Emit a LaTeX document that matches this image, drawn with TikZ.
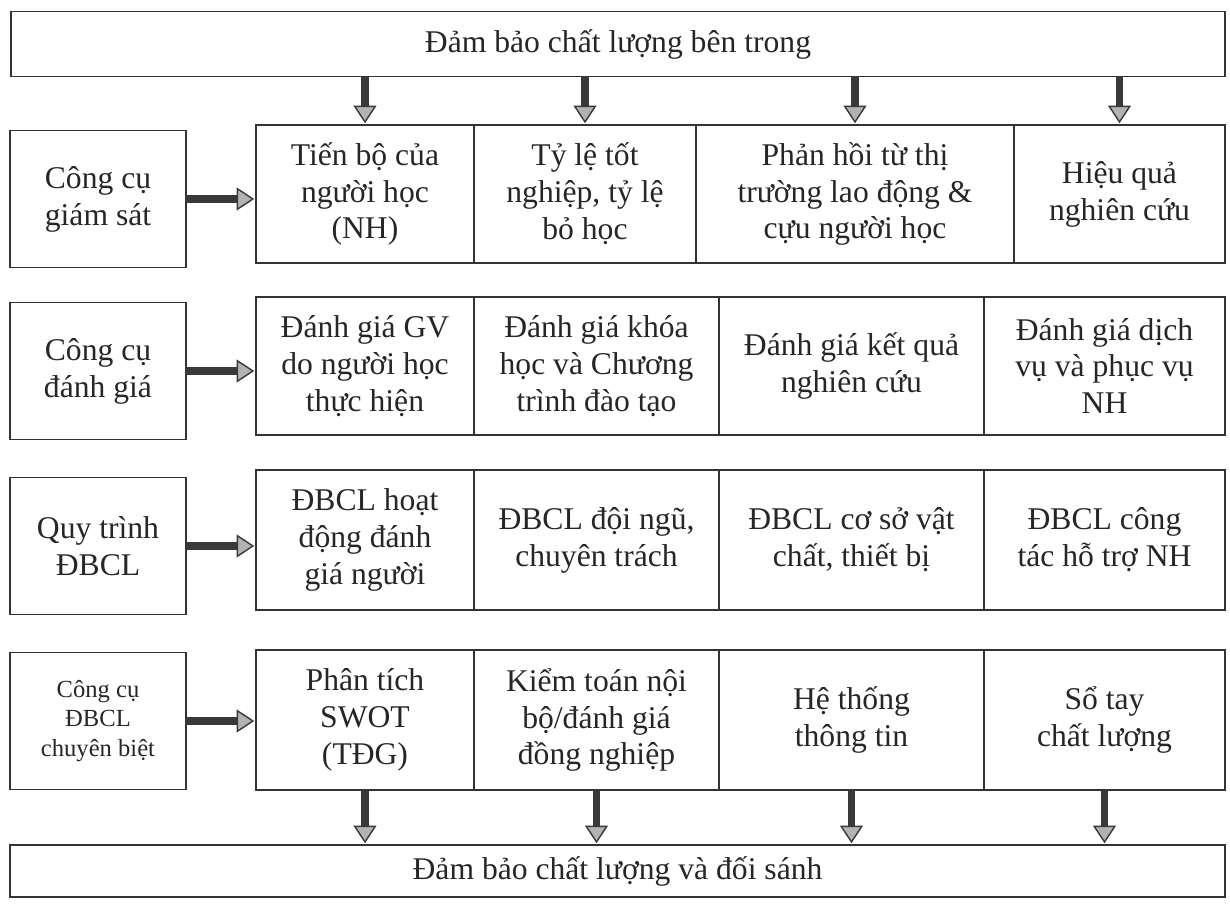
\documentclass[tikz,border=0pt]{standalone}
\usepackage{fontspec}
\setmainfont{Liberation Serif}
\usetikzlibrary{arrows.meta}
\tikzset{
  box/.style={draw=black!80, line width=0.9pt, inner sep=0pt, outer sep=0pt,
    align=center, text=black!85, font=\fontsize{18}{21}\selectfont},
  side/.style={box, minimum width=3.52cm, minimum height=2.74cm},
  flow/.style={line width=4pt, draw=gray!45!black, shorten >=1pt,
    -{Triangle[width=13pt,length=10pt,line width=0.8pt,fill=gray!60]}},
}
\begin{document}
\begin{tikzpicture}[x=0.02cm, y=-0.02cm]
      \useasboundingbox (0,0) rectangle (1230,905);
      \draw
        (618,44) node[box, minimum width=24.28cm, minimum height=1.3cm] (top){Đảm bảo chất lượng bên trong}
        (617.5,871) node[box, minimum width=24.3cm, minimum height=1.04cm] (bot){Đảm bảo chất lượng và đối sánh};
      \draw
        (98,199) node[side] (l1){Công cụ\\giám sát}
        (98,371) node[side] (l2){Công cụ\\đánh giá}
        (98,546) node[side] (l3){Quy trình\\ĐBCL}
        (98,721) node[side, font=\fontsize{14}{16.8}\selectfont] (l4){Công cụ\\ĐBCL\\chuyên biệt};
      \draw
        (365,194) node[box, minimum width=4.36cm, minimum height=2.76cm] (c11){Tiến bộ của\\người học\\(NH)}
        (585,194) node[box, minimum width=4.44cm, minimum height=2.76cm] (c12){Tỷ lệ tốt\\nghiệp, tỷ lệ\\bỏ học}
        (855,194) node[box, minimum width=6.36cm, minimum height=2.76cm] (c13){Phản hồi từ thị\\trường lao động \&\\cựu người học}
        (1119.5,194) node[box, minimum width=4.22cm, minimum height=2.76cm] (c14){Hiệu quả\\nghiên cứu};
      \draw
        (365,366) node[box, minimum width=4.36cm, minimum height=2.76cm] (c21){Đánh giá GV\\do người học\\thực hiện}
        (596.5,366) node[box, minimum width=4.9cm, minimum height=2.76cm] (c22){Đánh giá khóa\\học và Chương\\trình đào tạo}
        (851.5,366) node[box, minimum width=5.3cm, minimum height=2.76cm] (c23){Đánh giá kết quả\\nghiên cứu}
        (1104.5,366) node[box, minimum width=4.82cm, minimum height=2.76cm] (c24){Đánh giá dịch\\vụ và phục vụ\\NH};
      \draw
        (365,540) node[box, minimum width=4.36cm, minimum height=2.8cm] (c31){ĐBCL hoạt\\động đánh\\giá người}
        (596.5,540) node[box, minimum width=4.9cm, minimum height=2.8cm] (c32){ĐBCL đội ngũ,\\chuyên trách}
        (851.5,540) node[box, minimum width=5.3cm, minimum height=2.8cm] (c33){ĐBCL cơ sở vật\\chất, thiết bị}
        (1104.5,540) node[box, minimum width=4.82cm, minimum height=2.8cm] (c34){ĐBCL công\\tác hỗ trợ NH};
      \draw
        (365,720) node[box, minimum width=4.36cm, minimum height=2.8cm] (c41){Phân tích\\SWOT\\(TĐG)}
        (596.5,720) node[box, minimum width=4.9cm, minimum height=2.8cm] (c42){Kiểm toán nội\\bộ/đánh giá\\đồng nghiệp}
        (851.5,720) node[box, minimum width=5.3cm, minimum height=2.8cm] (c43){Hệ thống\\thông tin}
        (1104.5,720) node[box, minimum width=4.82cm, minimum height=2.8cm] (c44){Sổ tay\\chất lượng};
      \begin{scope}[flow]
        \draw (top.south -| c11) to (c11.north);
        \draw (top.south -| c12) to (c12.north);
        \draw (top.south -| c13) to (c13.north);
        \draw (top.south -| c14) to (c14.north);
        \draw (l1.east) to (l1.east -| c11.west);
        \draw (l2.east) to (l2.east -| c21.west);
        \draw (l3.east) to (l3.east -| c31.west);
        \draw (l4.east) to (l4.east -| c41.west);
        \draw (c41.south) to (c41.south |- bot.north);
        \draw (c42.south) to (c42.south |- bot.north);
        \draw (c43.south) to (c43.south |- bot.north);
        \draw (c44.south) to (c44.south |- bot.north);
      \end{scope}
    \end{tikzpicture}
\end{document}
